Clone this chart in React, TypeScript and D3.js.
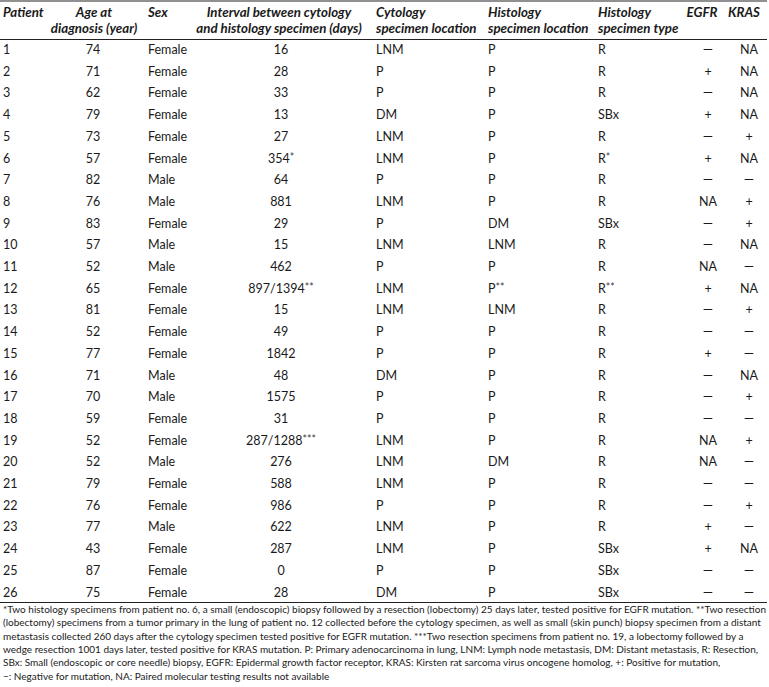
import React from "react";
import * as d3 from "d3";

const patients = ["1","2","3","4","5","6","7","8","9","10","11","12","13","14","15","16","17","18","19","20","21","22","23","24","25","26"];
const ages = ["74","71","62","79","73","57","82","76","83","57","52","65","81","52","77","71","70","59","52","52","79","76","77","43","87","75"];
const sexes = ["Female","Female","Female","Female","Female","Female","Male","Male","Female","Male","Male","Female","Female","Female","Female","Male","Male","Female","Female","Male","Female","Female","Male","Female","Female","Female"];
const intervals = ["16","28","33","13","27","354*","64","881","29","15","462","897/1394**","15","49","1842","48","1575","31","287/1288***","276","588","986","622","287","0","28"];
const cytologyLocations = ["LNM","P","P","DM","LNM","LNM","P","LNM","P","LNM","P","LNM","LNM","P","P","DM","P","P","LNM","LNM","LNM","P","LNM","LNM","P","DM"];
const histologyLocations = ["P","P","P","P","P","P","P","P","DM","LNM","P","P**","LNM","P","P","P","P","P","P","DM","P","P","P","P","P","P"];
const histologyTypes = ["R","R","R","SBx","R","R*","R","R","SBx","R","R","R**","R","R","R","R","R","R","R","R","R","R","R","SBx","SBx","SBx"];
const egfr = ["—","+","—","+","—","+","—","NA","—","—","NA","+","—","—","+","—","—","—","NA","NA","—","—","+","+","—","—"];
const kras = ["NA","NA","NA","NA","+","NA","—","+","+","NA","—","NA","+","—","—","NA","+","—","+","—","—","+","—","NA","—","—"];

const headers = [
  ["Patient"],
  ["Age at", "diagnosis (year)"],
  ["Sex"],
  ["Interval between cytology", "and histology specimen (days)"],
  ["Cytology", "specimen location"],
  ["Histology", "specimen location"],
  ["Histology", "specimen type"],
  ["EGFR"],
  ["KRAS"],
];

const footnotes = [
  "*Two histology specimens from patient no. 6, a small (endoscopic) biopsy followed by a resection (lobectomy) 25 days later, tested positive for EGFR mutation. **Two resection",
  "(lobectomy) specimens from a tumor primary in the lung of patient no. 12 collected before the cytology specimen, as well as small (skin punch) biopsy specimen from a distant",
  "metastasis collected 260 days after the cytology specimen tested positive for EGFR mutation. ***Two resection specimens from patient no. 19, a lobectomy followed by a",
  "wedge resection 1001 days later, tested positive for KRAS mutation. P: Primary adenocarcinoma in lung, LNM: Lymph node metastasis, DM: Distant metastasis, R: Resection,",
  "SBx: Small (endoscopic or core needle) biopsy, EGFR: Epidermal growth factor receptor, KRAS: Kirsten rat sarcoma virus oncogene homolog, +: Positive for mutation,",
  "−: Negative for mutation, NA: Paired molecular testing results not available",
];

const W = 769;
const H = 687;
const FONT = "Lato, 'Open Sans', sans-serif";

type Col = { values: string[]; x: number; hx: number; anchor: "start" | "middle" };
const columns: Col[] = [
  { values: patients, x: 3, hx: 3, anchor: "start" },
  { values: ages, x: 93, hx: 94, anchor: "middle" },
  { values: sexes, x: 148, hx: 148, anchor: "start" },
  { values: intervals, x: 281, hx: 279, anchor: "middle" },
  { values: cytologyLocations, x: 376, hx: 376, anchor: "start" },
  { values: histologyLocations, x: 488, hx: 488, anchor: "start" },
  { values: histologyTypes, x: 598, hx: 598, anchor: "start" },
  { values: egfr, x: 708, hx: 702, anchor: "middle" },
  { values: kras, x: 749, hx: 744, anchor: "middle" },
];

function Cell({ text, x, y, anchor }: { text: string; x: number; y: number; anchor: "start" | "middle" }) {
  const m = text.match(/^(.*?)(\*+)$/);
  const isDash = text === "—";
  if (!m) {
    return (
      <text x={x} y={y} textAnchor={anchor} fontSize={isDash ? 13 : 12.5} fill="#1a1a1a">
        {text}
      </text>
    );
  }
  return (
    <text x={x} y={y} textAnchor={anchor} fontSize={12.5} fill="#1a1a1a">
      {m[1]}
      <tspan fontSize={10.5} dy={-2} fill="#444">{m[2]}</tspan>
    </text>
  );
}

export default function App() {
  const yRow = d3.scalePoint<string>().domain(patients).range([49.5, 592]);
  return (
    <svg
      width={W}
      height={H}
      style={{ position: "absolute", left: 0, top: 0, background: "#fff" }}
      fontFamily={FONT}
    >
      <rect x={0} y={0} width={W} height={H} fill="#fff" />
      <line x1={0} x2={767} y1={1} y2={1} stroke="#222" strokeWidth={1.2} />
      <line x1={0} x2={767} y1={39.5} y2={39.5} stroke="#222" strokeWidth={1.2} />
      <line x1={0} x2={767} y1={602.5} y2={602.5} stroke="#222" strokeWidth={1.2} />
      {headers.map((lines, ci) =>
        lines.map((ln, li) => (
          <text
            key={`h${ci}-${li}`}
            x={columns[ci].hx}
            y={16.5 + li * 16}
            textAnchor={columns[ci].anchor}
            fontSize={13.3}
            fontWeight="bold"
            fontStyle="italic"
            fill="#1a1a1a"
          >
            {ln}
          </text>
        ))
      )}
      {patients.map((p, ri) => (
        <g key={`r${p}`}>
          {columns.map((c, ci) => (
            <Cell key={ci} text={c.values[ri]} x={c.x} y={(yRow(p) as number) + 4.5} anchor={c.anchor} />
          ))}
        </g>
      ))}
      {footnotes.map((f, i) => (
        <text key={`f${i}`} x={3} y={613 + i * 13.3} fontSize={10} fill="#1a1a1a">
          {f}
        </text>
      ))}
    </svg>
  );
}
